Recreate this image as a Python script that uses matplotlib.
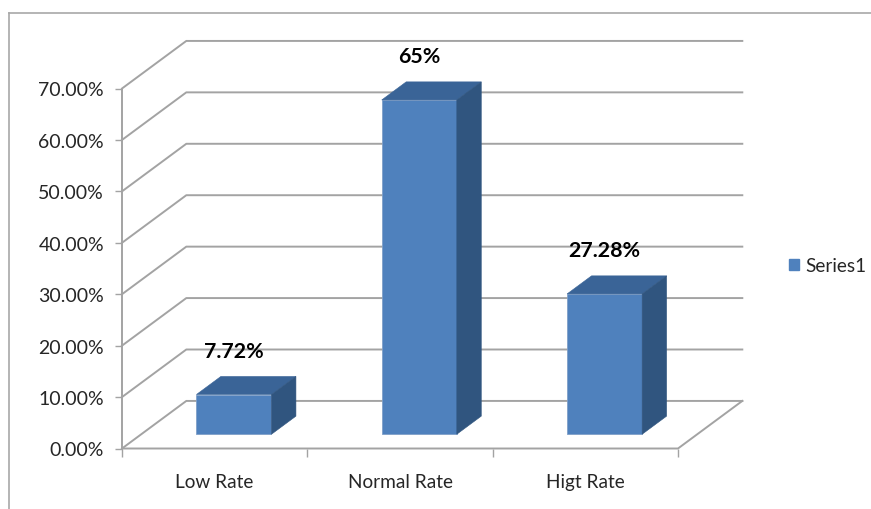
"""Columna 3D oblicua: distribución de tasas en Series1."""

import matplotlib.pyplot as plt
from matplotlib.lines import Line2D
from matplotlib.patches import Patch, Polygon

# ── Datos ──────────────────────────────────────────────────────────────────────

CATEGORIES = ["Low Rate", "Normal Rate", "Higt Rate"]
VALUES = [7.72, 65, 27.28]
VALUE_LABELS = ["7.72%", "65%", "27.28%"]
Y_TICKS = [0, 10, 20, 30, 40, 50, 60, 70]
SERIES_NAME = "Series1"

# ── Estilo ─────────────────────────────────────────────────────────────────────

FONT = "Lato"
GRID_COLOR = "#a3a3a3"
FRONT_COLOR = "#4f81bd"
TOP_COLOR = "#3a6497"
SIDE_COLOR = "#30557f"
EDGE_COLOR = "#7f9fc8"

# Desplazamiento de la pared trasera, en unidades de los ejes
DEPTH_X = 0.347
DEPTH_Y = 9.25
BAR_WIDTH = 0.405
BAR_NEAR = 0.30  # profundidad de la cara frontal de la barra
BAR_FAR = 0.68  # profundidad de la cara trasera de la barra


def project(x, y, depth=0.0):
    """Proyección oblicua de (categoría, valor, profundidad) a coordenadas 2D."""
    return x + depth * DEPTH_X, y + depth * DEPTH_Y


def draw_walls(ax):
    """Pared lateral, pared trasera y suelo con sus líneas de rejilla."""
    n = len(CATEGORIES)
    style = dict(color=GRID_COLOR, linewidth=1.4, clip_on=False, zorder=1)
    for tick in Y_TICKS:
        xs, ys = zip(project(0, tick), project(0, tick, 1), project(n, tick, 1))
        ax.plot(xs, ys, **style)

    # Borde del suelo
    xs, ys = zip(project(0, 0), project(n, 0), project(n, 0, 1))
    ax.plot(xs, ys, **style)


def draw_bar(ax, center, value):
    """Dibuja una barra como tres caras: frontal, superior y lateral."""
    left = center - BAR_WIDTH / 2
    right = center + BAR_WIDTH / 2

    front = [project(left, 0, BAR_NEAR), project(right, 0, BAR_NEAR),
             project(right, value, BAR_NEAR), project(left, value, BAR_NEAR)]
    top = [project(left, value, BAR_NEAR), project(right, value, BAR_NEAR),
           project(right, value, BAR_FAR), project(left, value, BAR_FAR)]
    side = [project(right, 0, BAR_NEAR), project(right, 0, BAR_FAR),
            project(right, value, BAR_FAR), project(right, value, BAR_NEAR)]

    ax.add_patch(Polygon(front, facecolor=FRONT_COLOR, edgecolor=EDGE_COLOR,
                         linewidth=0.6, zorder=3, clip_on=False))
    ax.add_patch(Polygon(top, facecolor=TOP_COLOR, edgecolor=TOP_COLOR,
                         linewidth=0.4, zorder=3, clip_on=False))
    ax.add_patch(Polygon(side, facecolor=SIDE_COLOR, edgecolor=SIDE_COLOR,
                         linewidth=0.4, zorder=3, clip_on=False))


def main():
    fig = plt.figure(figsize=(8.71, 5.10), dpi=100, facecolor="white")
    ax = fig.add_axes([122 / 871, 1 - 449.5 / 510, 556 / 871, 360 / 510])
    ax.set_xlim(0, len(CATEGORIES))
    ax.set_ylim(0, 70)

    # Marco exterior del gráfico
    for xs, ys in (([9, 871], [14, 14]), ([9, 9], [14, 510])):
        fig.add_artist(Line2D([x / 871 for x in xs], [1 - y / 510 for y in ys],
                              color="#a8a8a8", linewidth=1.2))

    draw_walls(ax)
    for i, value in enumerate(VALUES):
        center = i + 0.5
        draw_bar(ax, center, value)
        x, y = project(center, value, BAR_NEAR)
        ax.annotate(VALUE_LABELS[i], (x, y), xytext=(0, 31.5),
                    textcoords="offset points", ha="center", va="center",
                    fontsize=15.4, fontweight="bold", family=FONT,
                    color="black", zorder=5)

    for spine in ("top", "right", "bottom"):
        ax.spines[spine].set_visible(False)
    ax.spines["left"].set_color(GRID_COLOR)
    ax.spines["left"].set_linewidth(1.4)
    ax.patch.set_visible(False)

    # Las marcas de categoría van en los límites, no en los centros
    ax.set_xticks(range(len(CATEGORIES) + 1))
    ax.set_xticklabels([])
    ax.set_xticks([i + 0.5 for i in range(len(CATEGORIES))], minor=True)
    ax.set_xticklabels(CATEGORIES, minor=True, fontsize=13.7, family=FONT,
                       color="#262626")
    ax.tick_params(axis="x", which="major", length=5.5, width=1, color=GRID_COLOR)
    ax.tick_params(axis="x", which="minor", length=0, pad=18)

    ax.set_yticks(Y_TICKS)
    ax.set_yticklabels([f"{t:.2f}%" for t in Y_TICKS], fontsize=14, family=FONT,
                       color="#262626")
    ax.tick_params(axis="y", length=5, width=1, color=GRID_COLOR, pad=8)

    handle = Patch(facecolor=FRONT_COLOR, edgecolor=FRONT_COLOR, label=SERIES_NAME)
    fig.legend(handles=[handle], loc="center left",
               bbox_to_anchor=(789 / 871, 1 - 266.5 / 510), frameon=False,
               handlelength=0.53, handleheight=0.53, handletextpad=0.32,
               borderpad=0, borderaxespad=0, prop={"family": FONT, "size": 13.6},
               labelcolor="#262626")

    fig.savefig("out.png", dpi=100, facecolor="white")
    plt.close(fig)


if __name__ == "__main__":
    main()
